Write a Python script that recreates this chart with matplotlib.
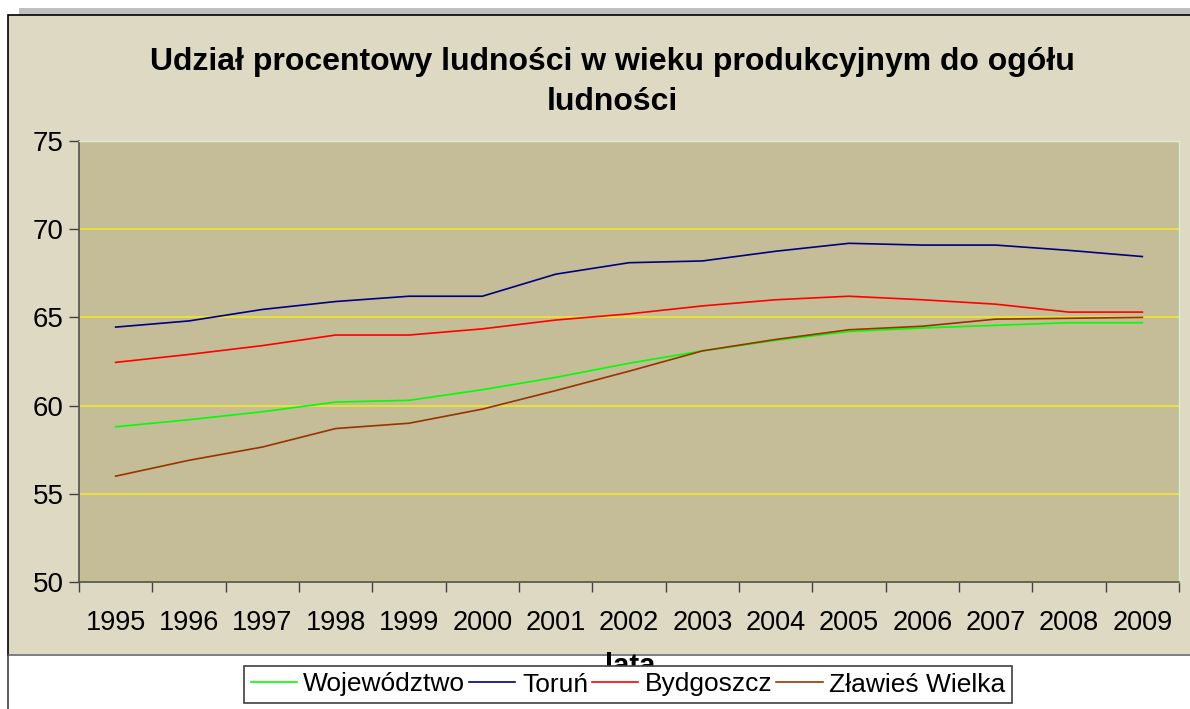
import numpy as np
import matplotlib.pyplot as plt
from matplotlib.patches import Rectangle
from matplotlib.lines import Line2D

plt.rcParams['font.family'] = ['Liberation Sans', 'DejaVu Sans']

# =========================
# DATA
# =========================
years = ["1995", "1996", "1997", "1998", "1999", "2000", "2001", "2002",
         "2003", "2004", "2005", "2006", "2007", "2008", "2009"]

wojewodztwo = [58.8, 59.2, 59.65, 60.2, 60.3, 60.9, 61.6, 62.4,
               63.1, 63.7, 64.2, 64.4, 64.55, 64.7, 64.7]
torun = [64.45, 64.8, 65.45, 65.9, 66.2, 66.2, 67.45, 68.1,
         68.2, 68.75, 69.2, 69.1, 69.1, 68.8, 68.45]
bydgoszcz = [62.45, 62.9, 63.4, 64.0, 64.0, 64.35, 64.85, 65.2,
             65.65, 66.0, 66.2, 66.0, 65.75, 65.3, 65.3]
zlawies = [56.0, 56.9, 57.65, 58.7, 59.0, 59.8, 60.85, 61.95,
           63.1, 63.75, 64.3, 64.5, 64.9, 64.95, 65.0]

series = [("Województwo", wojewodztwo, "#00FF00"),
          ("Toruń", torun, "#000080"),
          ("Bydgoszcz", bydgoszcz, "#FF0000"),
          ("Zławieś Wielka", zlawies, "#993300")]

W, H = 1190, 709

# =========================
# FIGURE + BACKGROUND
# =========================
fig = plt.figure(figsize=(W / 100, H / 100), dpi=100)
fig.patch.set_facecolor("white")

# shadow strip on top
fig.add_artist(Rectangle((19 / W, 1 - 15 / H), 1, 7 / H, transform=fig.transFigure,
                         facecolor="#C0C0C0", edgecolor="none", zorder=-3))
# chart area
fig.add_artist(Rectangle((8 / W, 1 - 655 / H), 1.0, 640 / H, transform=fig.transFigure,
                         facecolor="#DDD9C3", edgecolor="black", linewidth=1.2, zorder=-2))
fig.add_artist(Rectangle((8 / W, 1 - 655 / H), 1.0, 0, transform=fig.transFigure,
                         facecolor="none", edgecolor="#808080", linewidth=1.2, zorder=-1))
fig.add_artist(Line2D([8 / W, 8 / W], [0, 1 - 655 / H], transform=fig.transFigure,
                      color="#404040", linewidth=1.2, zorder=-1))

# =========================
# PLOT
# =========================
ax = fig.add_axes([79 / W, 1 - 582 / H, 1100 / W, 441 / H])
ax.set_facecolor("#C4BD97")

x = np.arange(len(years))
for name, vals, col in series:
    ax.plot(x, vals, color=col, linewidth=1.2, label=name)

ax.set_xlim(-0.5, len(years) - 0.5)
ax.set_ylim(50, 75)
ax.set_yticks([50, 55, 60, 65, 70, 75])
ax.grid(axis="y", color="#E8E040", linewidth=1.5)
ax.set_axisbelow(True)

# category boundaries as major ticks, labels at centres
ax.set_xticks(np.arange(len(years) + 1) - 0.5)
ax.set_xticklabels([])
ax.set_xticks(x, minor=True)
ax.set_xticklabels(years, minor=True)
ax.tick_params(axis="x", which="minor", length=0, labelsize=19.5, pad=20)
ax.tick_params(axis="x", which="major", length=7, width=1, color="#404040")
ax.tick_params(axis="y", length=7, width=1, color="#404040", labelsize=20, pad=4)

for s in ["left", "bottom"]:
    ax.spines[s].set_color("#505050")
    ax.spines[s].set_linewidth(1.2)
for s in ["top", "right"]:
    ax.spines[s].set_color("#D8EED8")
    ax.spines[s].set_linewidth(1.0)

# =========================
# TITLE, LABEL, LEGEND
# =========================
fig.text(612 / W, 1 - 82 / H, "Udział procentowy ludności w wieku produkcyjnym do ogółu\nludności",
         ha="center", va="center", fontsize=23, fontweight="bold", linespacing=1.45)

fig.text(630 / W, 1 - 652 / H, "lata", ha="center", va="top",
         fontsize=21, fontweight="bold")

leg = fig.legend(loc="center", bbox_to_anchor=(628 / W, 1 - 684.5 / H), ncol=4,
                 fontsize=19, frameon=True, fancybox=False, handlelength=1.75,
                 handletextpad=0.25, columnspacing=0.15, borderpad=0.25,
                 borderaxespad=0)
leg.get_frame().set_edgecolor("#404040")
leg.get_frame().set_linewidth(1.2)
leg.get_frame().set_facecolor("white")
leg.get_frame().set_alpha(1)

plt.savefig("out.png", dpi=100, facecolor=fig.get_facecolor())
